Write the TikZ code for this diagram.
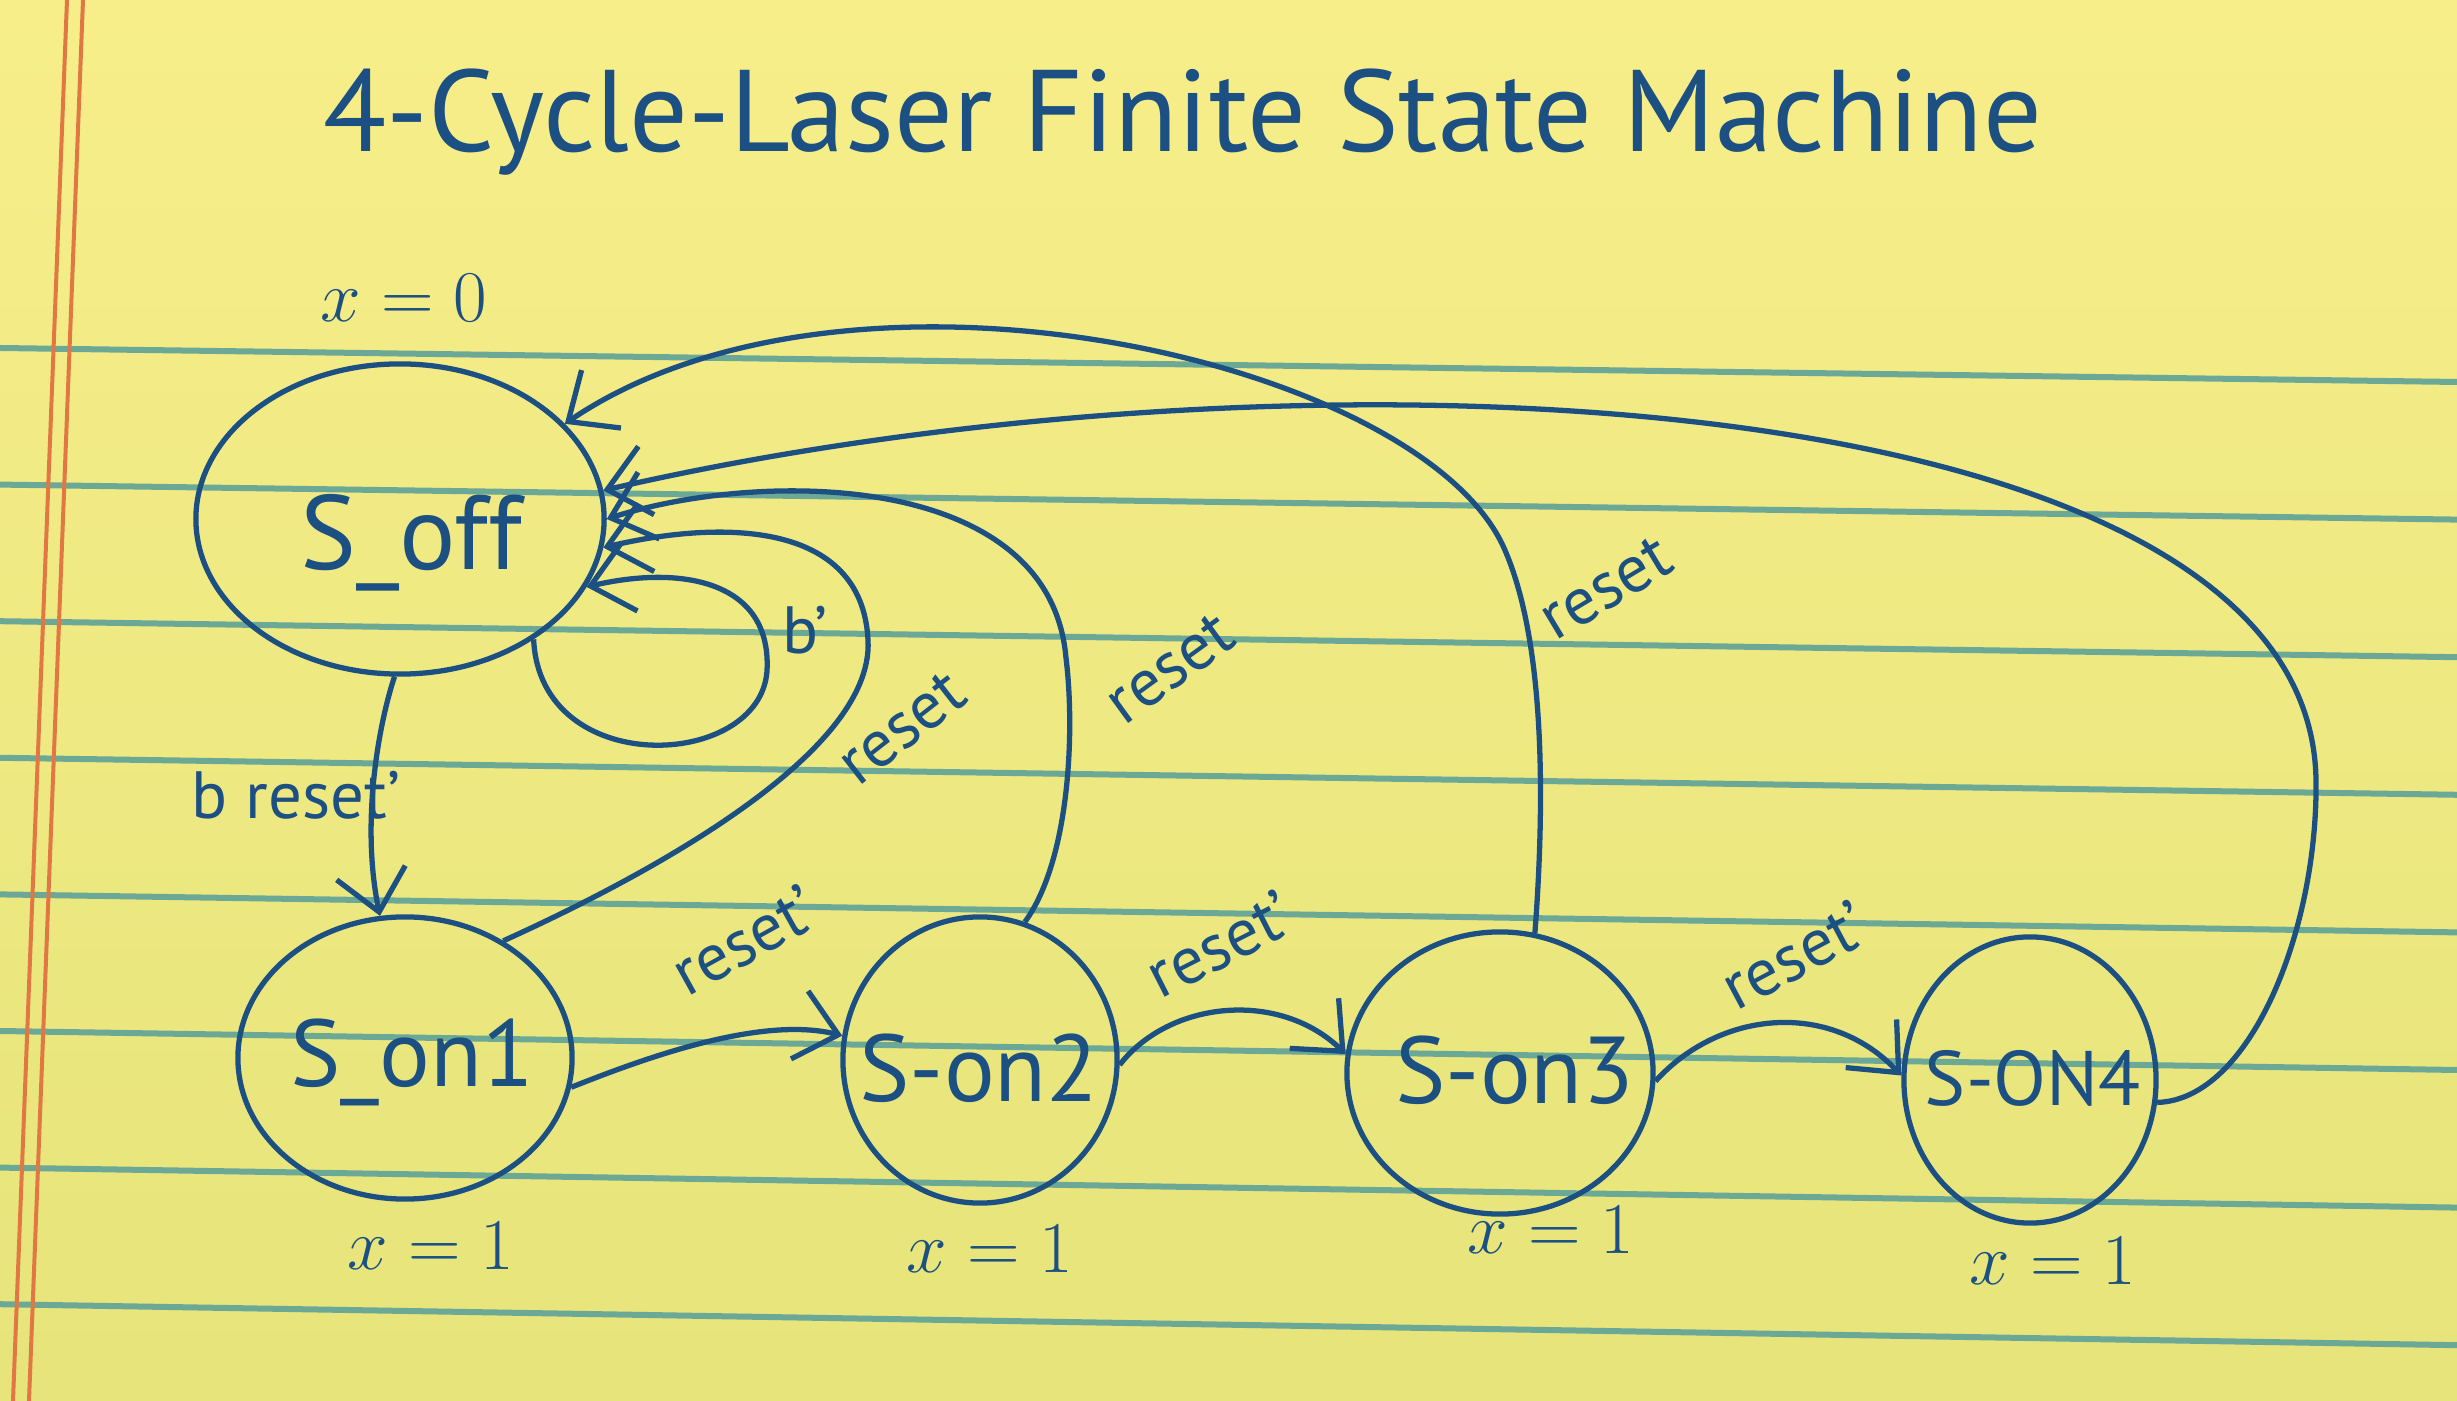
\documentclass[tikz,border=0pt]{standalone}
\usepackage{amsmath}
\usepackage{fontspec}
\setmainfont{PT Sans}
\usetikzlibrary{shapes.geometric,arrows.meta}

\definecolor{ink}{RGB}{28,80,130}
\definecolor{paperA}{RGB}{247,238,138}
\definecolor{paperB}{RGB}{230,228,122}
\definecolor{rule}{RGB}{108,168,150}
\definecolor{margin}{RGB}{225,120,68}

\begin{document}
\begin{tikzpicture}
[x=0.01cm,y=-0.01cm,>={Straight Barb[length=4mm,width=7mm]},
fsmstate/.style={draw=ink,ellipse,line width=1.5pt,inner sep=0pt},
statename/.style={text=ink,inner sep=0pt,font=\fontsize{27}{30}\selectfont},
outlbl/.style={text=ink,font=\fontsize{20}{22}\selectfont},
edgelbl/.style={text=ink,font=\fontsize{19}{22}\selectfont},
wire/.style={draw=ink,line width=1.5pt,->},]

%Paper
\shade[top color=paperA,bottom color=paperB] (0,0) rectangle (2457,1401);
\useasboundingbox (0,0) rectangle (2457,1401);
\foreach \i in {0,...,7}
  \draw[rule,line width=0.06cm] (0,348+136.6*\i) -- (2457,382+137.6*\i);
\draw[margin,line width=0.04cm] (67,0) -- (13,1401);
\draw[margin,line width=0.04cm] (83,0) -- (29,1401);

%State centres
\def\Ox{400}  \def\Oy{519}   %S_off
\def\Ax{405}  \def\Ay{1058}  %S_on1
\def\Bx{980}  \def\By{1060}  %S-on2
\def\Cx{1500} \def\Cy{1073}  %S-on3
\def\Dx{2030} \def\Dy{1080}  %S-ON4

%Title
\node (title) at (1183,122)[text=ink,font=\fontsize{33}{38}\selectfont] {4-Cycle-Laser Finite State Machine};

%Drawing states
\node (soff) at (\Ox,\Oy)[fsmstate,minimum width=4.08cm,minimum height=3.1cm] {};
\node (son1) at (\Ax,\Ay)[fsmstate,minimum width=3.34cm,minimum height=2.82cm] {};
\node (son2) at (\Bx,\By)[fsmstate,minimum width=2.74cm,minimum height=2.86cm] {};
\node (son3) at (\Cx,\Cy)[fsmstate,minimum width=3.06cm,minimum height=2.82cm] {};
\node (son4) at (\Dx,\Dy)[fsmstate,minimum width=2.52cm,minimum height=2.86cm] {};

%Labeling states
\node (toff) at (411,543)[statename,font=\fontsize{30}{32}\selectfont] {S\_off};
\node (ton1) at (412,1062)[statename] {S\_on1};
\node (ton2) at (979,1068)[statename] {S-on2};
\node (ton3) at (1515,1070)[statename] {S-on3};
\node (ton4) at (2033,1078)[statename,font=\fontsize{22}{26}\selectfont] {S-ON4};

%Outputs
\node (xoff) at (404,298)[outlbl] {$x=0$};
\node (xon1) at (431,1246)[outlbl] {$x=1$};
\node (xon2) at (990,1249)[outlbl] {$x=1$};
\node (xon3) at (1551,1230)[outlbl] {$x=1$};
\node (xon4) at (2053,1261)[outlbl] {$x=1$};

%Drawing transitions
\draw[wire] (soff.268) .. controls (380,720) and (360,820) .. (son1.100);
\draw[wire] (soff.-42) .. controls (540,780) and (760,770) .. (767,671)
  .. controls (772,580) and (680,565) .. (soff.-20);
\draw[wire] (son1.-10) .. controls (640,1060) and (760,1015) .. (son2.170);
\draw[wire] (son2.-2) .. controls (1170,1000) and (1280,990) .. (son3.173);
\draw[wire] (son3.-3) .. controls (1720,1010) and (1830,1000) .. (son4.178);
\draw[wire] (son1.50) .. controls (620,888) and (875,760) .. (868,640)
  .. controls (862,520) and (720,520) .. (soff.-8);
\draw[wire] (son2.72) .. controls (1070,860) and (1075,730) .. (1066,658)
  .. controls (1050,470) and (760,470) .. (soff.0);
\draw[wire] (son3.76) .. controls (1545,800) and (1545,640) .. (1504,548)
  .. controls (1420,360) and (850,230) .. (soff.30);
\draw[wire] (son4.-10) .. controls (2250,1100) and (2318,930) .. (2316,780)
  .. controls (2310,380) and (1300,330) .. (soff.8);

%Transition labels
\node (lblA) at (296,795)[edgelbl] {b reset'};
\node (lblB) at (805,630)[edgelbl] {b'};
\node (lblC) at (902,728)[edgelbl,rotate=38] {reset};
\node (lblD) at (1170,668)[edgelbl,rotate=36] {reset};
\node (lblE) at (1606,588)[edgelbl,rotate=31] {reset};
\node (lblF) at (744,940)[edgelbl,rotate=29] {reset'};
\node (lblG) at (1219,944)[edgelbl,rotate=27] {reset'};
\node (lblH) at (1794,955)[edgelbl,rotate=28] {reset'};

\end{tikzpicture}
\end{document}
